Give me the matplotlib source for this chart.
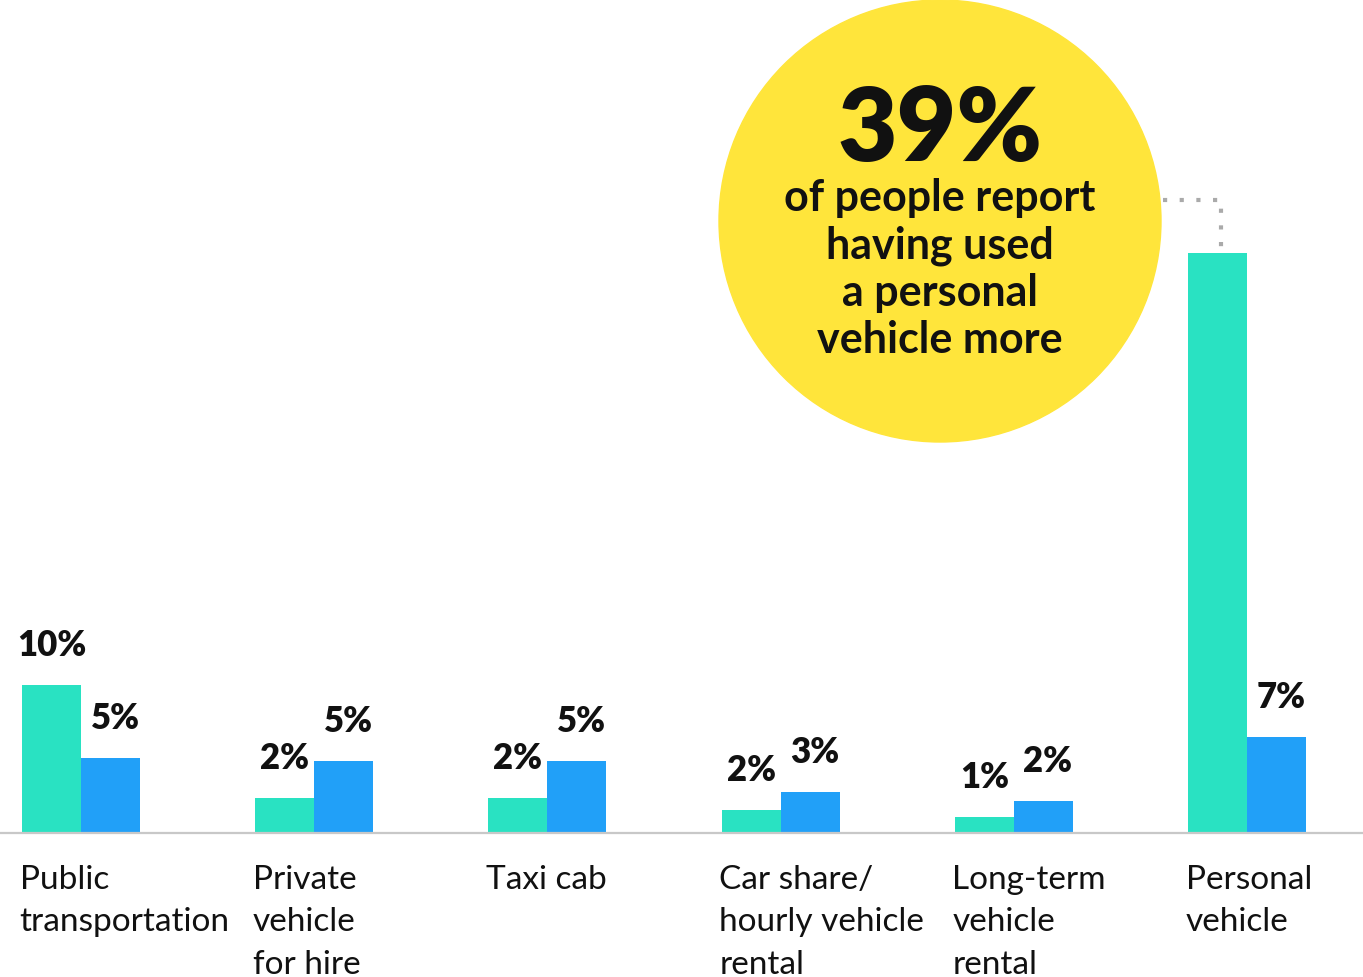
import matplotlib.pyplot as plt
import matplotlib.patches as mpatches
import numpy as np

categories = ["Public\ntransportation", "Private\nvehicle\nfor hire", "Taxi cab",
              "Car share/\nhourly vehicle\nrental", "Long-term\nvehicle\nrental",
              "Personal\nvehicle"]
teal_vals = [10.0, 2.36, 2.36, 1.55, 1.08, 39.06]
blue_vals = [5.05, 4.85, 4.85, 2.76, 2.15, 6.46]
teal_labels = ["10%", "2%", "2%", "2%", "1%", ""]
blue_labels = ["5%", "5%", "5%", "3%", "2%", "7%"]
callout_big = "39%"
callout_text = "of people report\nhaving used\na personal\nvehicle more"

TEAL = "#29E2C2"
BLUE = "#21A0F8"
YELLOW = "#FFE53B"
INK = "#111111"

plt.rcParams['font.family'] = ['Lato', 'DejaVu Sans']

W, H = 1363, 978
fig = plt.figure(figsize=(W / 100, H / 100), dpi=100)
# axes from the baseline (834 px from top) to the top of the figure
base_px = 834
ax = fig.add_axes([0, (H - base_px) / H, 1, base_px / H])

step = 233.2   # px between groups
x0 = 81        # px of first group's centre
px_per_pct = 14.85
ax.set_xlim(-x0 / step, (W - x0) / step)
ax.set_ylim(0, base_px / px_per_pct)
ax.axis('off')

x = np.arange(len(categories))
bw = 59 / step
ax.bar(x - bw / 2, teal_vals, bw, color=TEAL, zorder=2)
ax.bar(x + bw / 2, blue_vals, bw, color=BLUE, zorder=2)

# baseline
ax.axhline(0, color="#c8c8c8", lw=1.6, zorder=3, clip_on=False)

# value labels
off = 24 / px_per_pct
for i in range(len(categories)):
    if teal_labels[i]:
        ax.text(x[i] - bw / 2, teal_vals[i] + off, teal_labels[i], ha='center',
                va='bottom', fontsize=25, fontweight='heavy', color=INK)
    ax.text(x[i] + bw / 2 + 0.02, blue_vals[i] + off, blue_labels[i], ha='center',
            va='bottom', fontsize=25, fontweight='heavy', color=INK)

# category labels
for i, c in enumerate(categories):
    ax.text(x[i] - bw - 0.01, -31 / px_per_pct, c, ha='left', va='top',
            fontsize=24, color=INK, linespacing=1.52, clip_on=False)

# yellow callout circle
cx, cy, r = 940, 222, 221
circ = mpatches.Ellipse((cx / W, 1 - cy / H), 2 * r / W, 2 * r / H,
                        transform=fig.transFigure, color=YELLOW, zorder=1)
fig.patches.append(circ)
fig.text(cx / W, 1 - 131 / H, callout_big, ha='center', va='center',
         fontsize=74, fontweight='heavy', color=INK)
fig.text(cx / W, 1 - 269 / H, callout_text, ha='center', va='center',
         fontsize=31, fontweight='bold', color=INK, linespacing=1.22)

# dotted connector from circle to the personal-vehicle bar
lx = (1221) / W
fig.lines.append(plt.Line2D([1163 / W, lx, lx], [1 - 201 / H, 1 - 201 / H, 1 - 252 / H],
                            transform=fig.transFigure, color="#aaaaaa", lw=3,
                            linestyle=(0, (1, 3)), solid_capstyle='butt'))

fig.savefig("out.png", dpi=100)
